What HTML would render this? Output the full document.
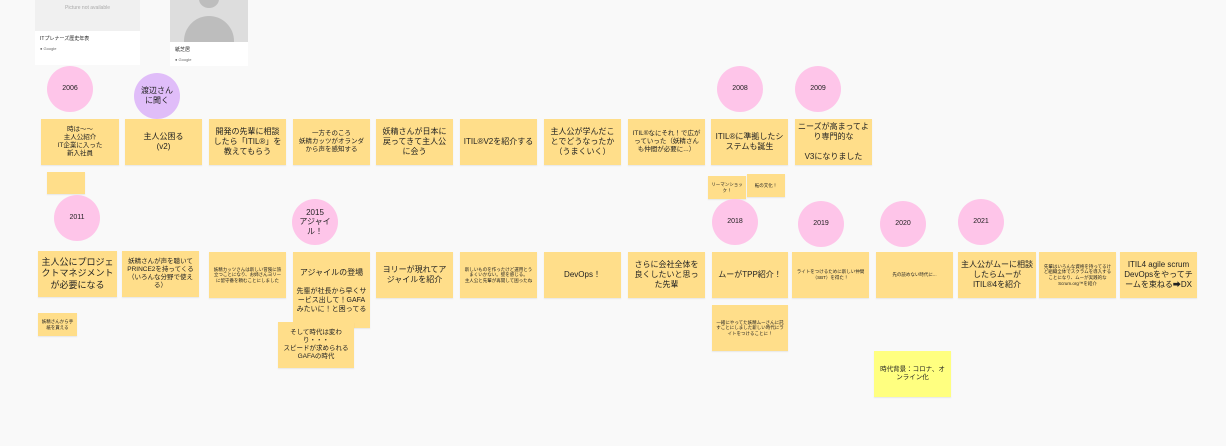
<!DOCTYPE html>
<html><head><meta charset="utf-8"><style>
body{margin:0;width:1226px;height:446px;background:#f9f9f9;position:relative;overflow:hidden;font-family:"Liberation Sans","Noto Sans CJK JP",sans-serif;color:#222}
.s{position:absolute;background:#ffde8a;display:flex;align-items:center;justify-content:center;text-align:center;box-sizing:border-box;padding:2px 3px;line-height:1.25;box-shadow:0 1px 1px rgba(0,0,0,.08)}
.c{position:absolute;width:46px;height:46px;border-radius:50%;background:#fec5e9;display:flex;align-items:center;justify-content:center;text-align:center;font-size:7px;line-height:1.2}
.f8{font-size:8px}.f7{font-size:6.5px}.f5{font-size:4.5px}.f9{font-size:9px}
</style></head><body>
<div style="position:absolute;left:35px;top:0;width:105px;height:65px;background:#fff">
 <div style="height:31px;background:#f0f0f0;font-size:5px;color:#aaa;text-align:center;padding-top:5px;box-sizing:border-box">Picture not available</div>
 <div style="font-size:5px;padding:4px 5px 0">ITプレナーズ歴史年表</div>
 <div style="font-size:4px;padding:4px 5px;color:#666">● Google</div>
</div>
<div style="position:absolute;left:170px;top:0;width:78px;height:66px;background:#fff">
 <div style="height:42px;background:#ddd;position:relative;overflow:hidden"><div style="position:absolute;left:14px;top:16px;width:50px;height:30px;border-radius:25px 25px 0 0;background:#bdbdbd"></div><div style="position:absolute;left:29px;top:-10px;width:20px;height:18px;border-radius:50%;background:#bdbdbd"></div></div>
 <div style="font-size:5px;padding:4px 5px 0">紙芝居</div>
 <div style="font-size:4px;padding:4px 5px;color:#666">● Google</div>
</div>

<div class="c" style="left:47px;top:66px">2006</div>
<div class="c" style="left:134px;top:73px;background:#e0bdf9;font-size:8px">渡辺さん<br>に聞く</div>
<div class="c" style="left:717px;top:66px">2008</div>
<div class="c" style="left:795px;top:66px">2009</div>

<div class="s f7" style="left:41px;top:119px;width:78px;height:46px">時は〜〜<br>主人公紹介<br>IT企業に入った<br>新入社員</div>
<div class="s f8" style="left:125px;top:119px;width:77px;height:46px">主人公困る<br>(v2)</div>
<div class="s f8" style="left:209px;top:119px;width:77px;height:46px">開発の先輩に相談したら「ITIL®」を教えてもらう</div>
<div class="s f7" style="left:293px;top:119px;width:77px;height:46px">一方そのころ<br>妖精カッツがオランダから声を感知する</div>
<div class="s f8" style="left:376px;top:119px;width:77px;height:46px">妖精さんが日本に戻ってきて主人公に会う</div>
<div class="s f8" style="left:460px;top:119px;width:77px;height:46px">ITIL®V2を紹介する</div>
<div class="s f8" style="left:544px;top:119px;width:77px;height:46px">主人公が学んだことでどうなったか（うまくいく）</div>
<div class="s f7" style="left:628px;top:119px;width:77px;height:46px">ITIL®なにそれ！で広がっていった（妖精さんも仲間が必要に...）</div>
<div class="s f8" style="left:711px;top:119px;width:77px;height:46px">ITIL®に準拠したシステムも誕生</div>
<div class="s f8" style="left:795px;top:119px;width:77px;height:46px">ニーズが高まってより専門的な<br><br>V3になりました</div>
<div class="s" style="left:47px;top:172px;width:38px;height:22px"></div>
<div class="s f5" style="left:708px;top:176px;width:38px;height:23px">リーマンショック！</div>
<div class="s f5" style="left:747px;top:174px;width:38px;height:23px">転の文化！</div>

<div class="c" style="left:54px;top:195px">2011</div>
<div class="c" style="left:292px;top:199px;font-size:8px">2015<br>アジャイ<br>ル！</div>
<div class="c" style="left:712px;top:199px">2018</div>
<div class="c" style="left:798px;top:201px">2019</div>
<div class="c" style="left:880px;top:201px">2020</div>
<div class="c" style="left:958px;top:199px">2021</div>

<div class="s f9" style="left:38px;top:251px;width:79px;height:46px">主人公にプロジェクトマネジメントが必要になる</div>
<div class="s f7" style="left:122px;top:251px;width:77px;height:46px">妖精さんが声を聴いてPRINCE2を持ってくる（いろんな分野で使える）</div>
<div class="s f5" style="left:209px;top:252px;width:77px;height:46px">妖精カッツさんは新しい冒険に旅立つことになり、お姉さんヨリーに留守番を頼むことにしました</div>
<div class="s f8" style="left:293px;top:252px;width:77px;height:76px;flex-direction:column;justify-content:flex-start;padding-top:16px">アジャイルの登場<br><br><span style="font-size:7px">先輩が社長から早くサービス出して！GAFAみたいに！と困ってる</span></div>
<div class="s f7" style="left:278px;top:322px;width:76px;height:46px">そして時代は変わり・・・<br>スピードが求められるGAFAの時代</div>
<div class="s f8" style="left:376px;top:252px;width:77px;height:46px">ヨリーが現れてアジャイルを紹介</div>
<div class="s f5" style="left:460px;top:252px;width:77px;height:46px">新しいものを作ったけど運用とうまくいかない。壁を感じる。<br>主人公と先輩が再開して困ったね</div>
<div class="s f8" style="left:544px;top:252px;width:77px;height:46px">DevOps！</div>
<div class="s f8" style="left:628px;top:252px;width:77px;height:46px">さらに会社全体を良くしたいと思った先輩</div>
<div class="s f8" style="left:712px;top:252px;width:76px;height:46px">ムーがTPP紹介！</div>
<div class="s f5" style="left:792px;top:252px;width:77px;height:46px">ライトをつけるために新しい仲間（SBT）を得た！</div>
<div class="s f5" style="left:876px;top:252px;width:77px;height:46px">先の読めない時代に...</div>
<div class="s f8" style="left:958px;top:252px;width:78px;height:46px">主人公がムーに相談したらムーがITIL®4を紹介</div>
<div class="s f5" style="left:1039px;top:252px;width:77px;height:46px">先輩はいろんな資格を持ってるけど組織全体でスクラムを導入することになり、ムーが実践的なScrum.org™を紹介</div>
<div class="s f8" style="left:1120px;top:252px;width:77px;height:46px">ITIL4 agile scrum DevOpsをやってチームを束ねる➡DX</div>
<div class="s f5" style="left:38px;top:313px;width:39px;height:23px">妖精さんから手紙を貰える</div>
<div class="s f5" style="left:712px;top:305px;width:76px;height:46px">一緒にやってた妖精ムーさんに託すことにしました新しい時代にライトをつけることに！</div>
<div class="s f7" style="left:874px;top:351px;width:77px;height:46px;background:#ffff80">時代背景：コロナ、オンライン化</div>
</body></html>
